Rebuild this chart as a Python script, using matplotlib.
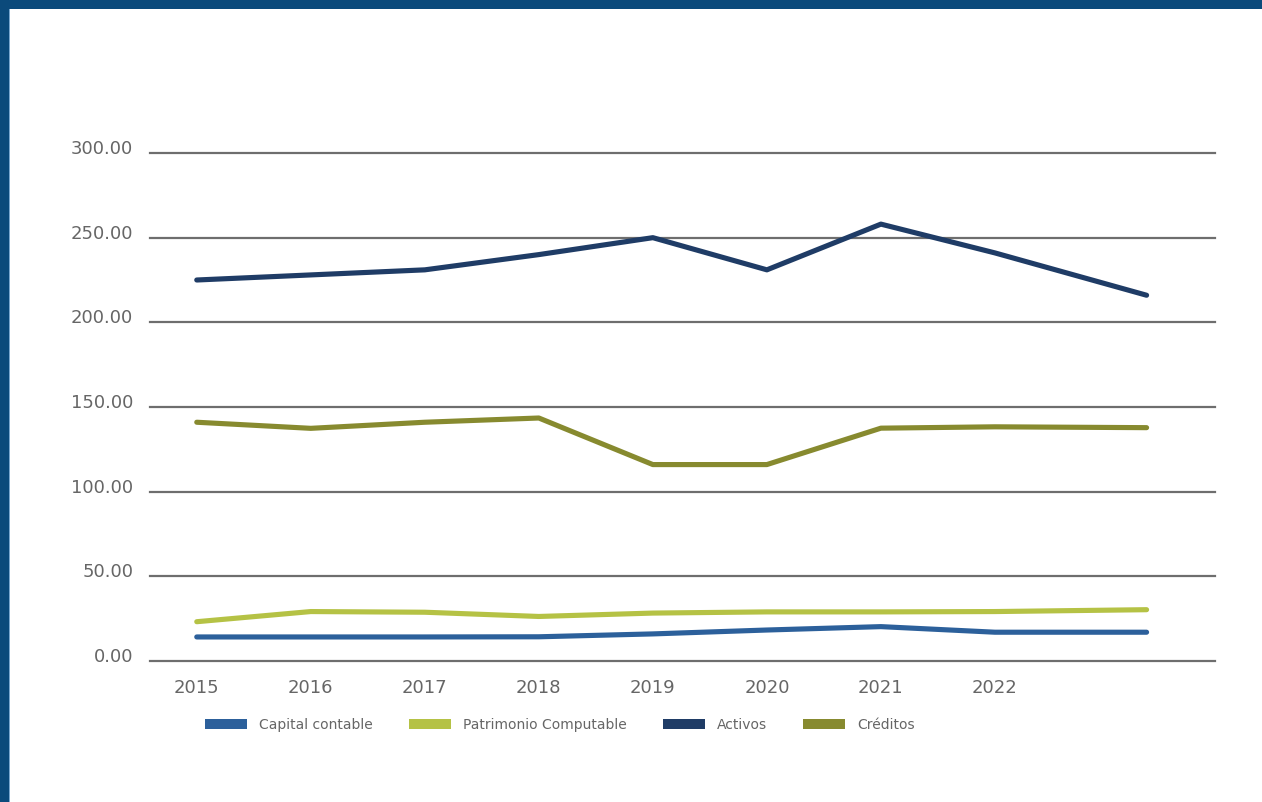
import matplotlib
matplotlib.use('Agg')
import matplotlib.pyplot as plt
import matplotlib.patches as mpatches
import matplotlib.transforms as mtransforms

# data
years = ['2015', '2016', '2017', '2018', '2019', '2020', '2021', '2022']
periods = [0, 1, 2, 3, 4, 5, 6, 7, 8.33]  # last point sits past the 2022 label

capital_contable = [14.2, 14.2, 14.2, 14.3, 16.0, 18.3, 20.3, 17.0, 17.0]
patrimonio_computable = [23.2, 29.2, 28.8, 26.3, 28.3, 29.0, 29.0, 29.2, 30.3]
activos = [225, 228, 231, 240, 250, 231, 258, 241, 216]
creditos = [141, 137.4, 141, 143.5, 116, 116, 137.5, 138.3, 137.8]

series = [
    ('Capital contable', capital_contable, '#2c609b'),
    ('Patrimonio Computable', patrimonio_computable, '#b5c245'),
    ('Activos', activos, '#1f3c66'),
    ('Créditos', creditos, '#878a2f'),
]

text_color = '#666666'
plt.rcParams['font.family'] = ['DejaVu Sans']

fig = plt.figure(figsize=(12.62, 8.02), dpi=100)
fig.patch.set_facecolor('white')

# blue frame on the top and left edges
fig.patches.append(mpatches.Rectangle((0, 0), 9 / 1262, 1, transform=fig.transFigure,
                                      facecolor='#0b4a7b', edgecolor='none', zorder=0))
fig.patches.append(mpatches.Rectangle((0, 1 - 9 / 802), 1, 9 / 802, transform=fig.transFigure,
                                      facecolor='#0b4a7b', edgecolor='none', zorder=0))
fig.patches.append(mpatches.Rectangle((9 / 1262, 0), 1.5 / 1262, 1 - 9 / 802, transform=fig.transFigure,
                                      facecolor='#7aa7cf', edgecolor='none', zorder=0))

ax = fig.add_axes([150 / 1262, 1 - 661 / 802, (1215 - 150) / 1262, (661 - 153) / 802])

for name, vals, color in series:
    ax.plot(periods, vals, color=color, linewidth=3.7, solid_capstyle='round',
            solid_joinstyle='round', zorder=3)

ax.set_xlim(-0.41, 8.93)
ax.set_ylim(0, 300)
ax.set_yticks([0, 50, 100, 150, 200, 250, 300])
ax.set_yticklabels(['%.2f' % v for v in [0, 50, 100, 150, 200, 250, 300]])
ax.set_xticks(range(len(years)))
ax.set_xticklabels(years)

ax.yaxis.grid(True, color='#6e6e6e', linewidth=1.6)
for gl in ax.get_ygridlines():
    gl.set_clip_on(False)
ax.set_axisbelow(True)
for sp in ax.spines.values():
    sp.set_visible(False)

ax.tick_params(axis='both', length=0, colors=text_color, labelsize=13)
ax.tick_params(axis='y', pad=12)
ax.tick_params(axis='x', pad=13)

# y labels sit a little above their gridlines
offset = mtransforms.ScaledTranslation(0, 6 / 100, fig.dpi_scale_trans)
for lab in ax.get_yticklabels():
    lab.set_transform(lab.get_transform() + offset)

handles = [mpatches.Patch(facecolor=c, edgecolor='none', label=n) for n, v, c in series]
leg = fig.legend(handles=handles, loc='center', bbox_to_anchor=(560 / 1262, 1 - 725 / 802),
                 ncol=4, frameon=False, fontsize=10, handlelength=3.0, handleheight=0.7,
                 handletextpad=0.9, columnspacing=2.6)
for t in leg.get_texts():
    t.set_color(text_color)

fig.savefig('out.png', dpi=100, facecolor='white')
